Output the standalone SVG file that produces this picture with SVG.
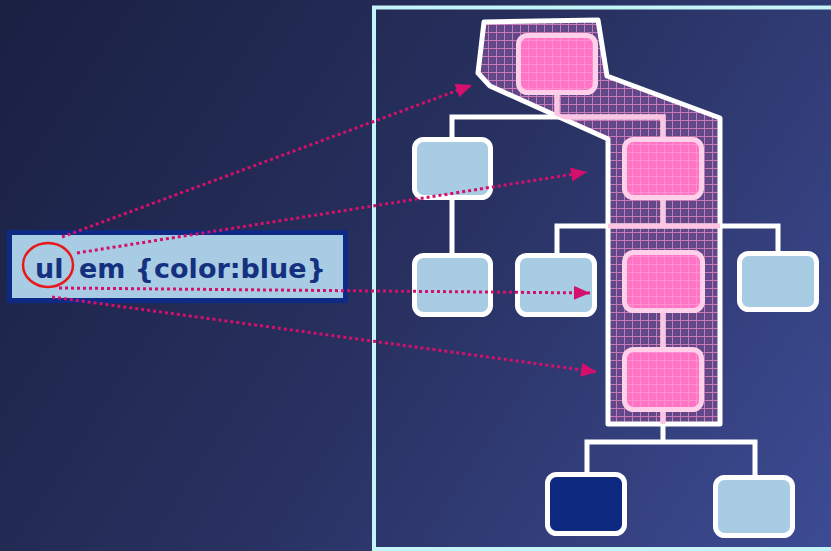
<svg xmlns="http://www.w3.org/2000/svg" width="831" height="551" viewBox="0 0 831 551">
  <defs>
    <linearGradient id="bg" x1="0" y1="0" x2="831" y2="551" gradientUnits="userSpaceOnUse">
      <stop offset="0" stop-color="#1a2042"/>
      <stop offset="0.5" stop-color="#283160"/>
      <stop offset="1" stop-color="#3d4b94"/>
    </linearGradient>
    <pattern id="hatch" width="8" height="8" patternUnits="userSpaceOnUse">
      <rect width="8" height="8" fill="#634889"/>
      <path d="M0 0.5H8M0.5 0V8" stroke="#c878b4" stroke-width="1"/>
    </pattern>
    <pattern id="pinkgrid" width="8" height="8" patternUnits="userSpaceOnUse">
      <rect width="8" height="8" fill="#ff74c4"/>
      <path d="M0 0.5H8M0.5 0V8" stroke="#ff8fd0" stroke-width="1"/>
    </pattern>
    <clipPath id="hlclip">
      <polygon points="484,22 598,20 607,76 720,118 720,424 608,424 608,139 490,86 478,73"/>
    </clipPath>
    <marker id="arr" markerUnits="userSpaceOnUse" markerWidth="17" markerHeight="15" refX="16" refY="7" orient="auto">
      <path d="M0,0 L16,7 L0,14 z" fill="#d4106c"/>
    </marker>
    <style>
      .conn { fill: none; stroke: #ffffff; stroke-width: 5; }
      .conn-hl { fill: none; stroke: #ffc4e4; stroke-width: 5; }
      .blue { fill: #a8cce4; stroke: #ffffff; stroke-width: 5; }
      .dark { fill: #0d2a80; stroke: #ffffff; stroke-width: 5; }
      .pink { fill: url(#pinkgrid); stroke: #ffd0ea; stroke-width: 5; }
      .arrow { fill: none; stroke: #d4106c; stroke-width: 3; stroke-dasharray: 3 3; marker-end: url(#arr); }
      .lbl { font-family: "DejaVu Sans", Verdana, sans-serif; font-weight: bold; font-size: 27px; fill: #15307e; }
    </style>
  </defs>

  <rect width="831" height="551" fill="url(#bg)"/>

  <rect id="frame" x="374" y="7.5" width="470" height="541.5" fill="none" stroke="#c4f4f8" stroke-width="4"/>

  <g id="highlight">
    <polygon points="484,22 598,20 607,76 720,118 720,424 608,424 608,139 490,86 478,73" fill="url(#hatch)" stroke="#ffffff" stroke-width="5" stroke-linejoin="round"/>
  </g>

  <g id="connectors">
    <path class="conn" d="M557 95V117M452 137V117H663V137"/>
    <path class="conn" d="M452 200V253"/>
    <path class="conn" d="M663 200V226M557 253V226H778V251"/>
    <path class="conn" d="M663 313V347"/>
    <path class="conn" d="M663 412V442M587 472V442H755V475"/>
    <g clip-path="url(#hlclip)">
      <path class="conn-hl" d="M557 95V117M452 137V117H663V137"/>
      <path class="conn-hl" d="M663 200V226M557 253V226H778V251"/>
      <path class="conn-hl" d="M663 313V347"/>
      <path class="conn-hl" d="M663 412V442"/>
    </g>
  </g>

  <g id="node-root"><rect class="pink" x="518.5" y="35.5" width="77" height="57" rx="9"/></g>
  <g id="node-a"><rect class="blue" x="414.5" y="139.5" width="76" height="58" rx="9"/></g>
  <g id="node-b"><rect class="pink" x="624.5" y="139.5" width="77" height="58" rx="9"/></g>
  <g id="node-a1"><rect class="blue" x="414.5" y="255.5" width="76" height="59" rx="9"/></g>
  <g id="node-b1"><rect class="blue" x="517.5" y="255.5" width="77" height="59" rx="9"/></g>
  <g id="node-b2"><rect class="pink" x="624.5" y="252.5" width="78" height="58" rx="9"/></g>
  <g id="node-b3"><rect class="blue" x="739.5" y="253.5" width="77" height="56" rx="9"/></g>
  <g id="node-c"><rect class="pink" x="624.5" y="349.5" width="77" height="60" rx="9"/></g>
  <g id="node-c1"><rect class="dark" x="547.5" y="474.5" width="77" height="59" rx="9"/></g>
  <g id="node-c2"><rect class="blue" x="715.5" y="477.5" width="77" height="58" rx="9"/></g>

  <g id="label">
    <rect x="9.5" y="232.5" width="336" height="68" fill="#a8cce4" stroke="#0f2a84" stroke-width="5"/>
    <text class="lbl" y="278"><tspan x="35">ul</tspan><tspan x="79">em {color:blue}</tspan></text>
    <ellipse cx="48" cy="265" rx="25" ry="22" fill="none" stroke="#e81818" stroke-width="2.5"/>
  </g>

  <g id="arrows">
    <path class="arrow" d="M62 237L472 85"/>
    <path class="arrow" d="M77 253L587 172"/>
    <path class="arrow" d="M59 288L590 293"/>
    <path class="arrow" d="M52 297L597 372"/>
  </g>
</svg>
